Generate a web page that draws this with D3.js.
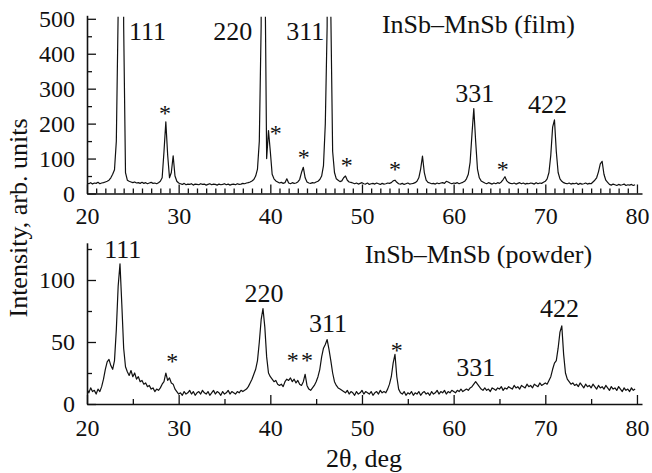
<!DOCTYPE html>
<html><head><meta charset="utf-8">
<script src="https://cdn.jsdelivr.net/npm/d3@7"></script>
<style>
html,body{margin:0;padding:0;background:#fff;}
svg{display:block;}
</style></head>
<body><svg id="chart" width="652" height="473"></svg>
<script>
// ---------- data (2θ in deg, intensity in arb. units) ----------
const filmData = [[20.0,30],[20.2,28],[20.4,31],[20.6,27],[20.8,30],[21.0,29],[21.2,32],[21.4,28],[21.6,30],[21.8,31],[22.0,33],[22.2,35],[22.4,38],[22.6,45],[22.8,55],[23.0,68],[23.2,150],[23.4,520],[23.6,3000],[23.8,2500],[24.0,480],[24.2,60],[24.4,38],[24.6,35],[24.8,33],[25.0,31],[25.2,33],[25.4,30],[25.6,31],[25.8,29],[26.0,32],[26.2,29],[26.4,31],[26.6,28],[26.8,30],[27.0,32],[27.2,29],[27.4,30],[27.6,28],[27.8,31],[28.0,35],[28.2,45],[28.4,120],[28.6,205],[28.8,110],[29.0,45],[29.2,60],[29.4,108],[29.6,50],[29.8,35],[30.0,30],
[30.2,28],[30.4,26],[30.6,29],[30.8,25],[31.0,27],[31.2,26],[31.4,28],[31.6,24],[31.8,27],[32.0,26],[32.2,25],[32.4,28],[32.6,26],[32.8,27],[33.0,24],[33.2,26],[33.4,28],[33.6,25],[33.8,27],[34.0,26],[34.2,24],[34.4,27],[34.6,25],[34.8,26],[35.0,28],[35.2,25],[35.4,27],[35.6,24],[35.8,26],[36.0,27],[36.2,25],[36.4,28],[36.6,26],[36.8,27],[37.0,29],[37.2,28],[37.4,30],[37.6,31],[37.8,33],[38.0,36],[38.2,40],[38.4,50],[38.6,70],[38.8,150],[39.0,480],[39.2,3000],[39.4,700],[39.6,100],[39.8,180],[40.0,120],[40.2,55],[40.4,42],[40.6,36],[40.8,33],[41.0,30],[41.2,32],[41.4,29],[41.6,31],[41.8,42],[42.0,30],[42.2,28],[42.4,31],[42.6,29],[42.8,30],[43.0,33],[43.2,40],[43.4,60],[43.6,75],[43.8,45],[44.0,33],[44.2,30],[44.4,29],[44.6,31],[44.8,30],[45.0,33],[45.2,35],[45.4,40],[45.6,50],[45.8,80],[46.0,200],[46.2,480],[46.4,3000],[46.6,520],[46.8,120],[47.0,60],[47.2,42],[47.4,38],[47.6,34],[47.8,36],[48.0,45],[48.2,50],[48.4,38],[48.6,33],[48.8,32],[49.0,30],
[49.2,28],[49.4,30],[49.6,27],[49.8,29],[50.0,31],[50.2,28],[50.4,27],[50.6,30],[50.8,26],[51.0,28],[51.2,29],[51.4,27],[51.6,30],[51.8,28],[52.0,26],[52.2,29],[52.4,27],[52.6,28],[52.8,30],[53.0,29],[53.2,31],[53.4,36],[53.6,38],[53.8,32],[54.0,28],[54.2,27],[54.4,29],[54.6,26],[54.8,28],[55.0,30],[55.2,27],[55.4,28],[55.6,29],[55.8,31],[56.0,35],[56.2,45],[56.4,70],[56.6,107],[56.8,60],[57.0,38],[57.2,32],[57.4,30],[57.6,28],[57.8,29],[58.0,27],[58.2,30],[58.4,28],[58.6,30],[58.8,31],[59.0,29],[59.2,35],[59.4,33],[59.6,30],[59.8,28],[60.0,30],[60.2,29],[60.4,31],[60.6,28],[60.8,30],[61.0,32],[61.2,35],[61.4,42],[61.6,55],[61.8,90],[62.0,170],[62.2,243],[62.4,150],[62.6,70],[62.8,45],[63.0,36],[63.2,33],[63.4,30],[63.6,28],[63.8,31],[64.0,29],[64.2,27],[64.4,30],[64.6,28],[64.8,31],[65.0,29],[65.2,33],[65.4,40],[65.6,48],[65.8,36],[66.0,31],[66.2,29],[66.4,28],[66.6,30],[66.8,27],[67.0,29],[67.2,31],[67.4,28],[67.6,30],[67.8,27],[68.0,29],[68.2,28],[68.4,30],[68.6,29],[68.8,27],[69.0,31],[69.2,28],[69.4,30],[69.6,29],[69.8,32],[70.0,35],[70.2,42],[70.4,60],[70.6,110],[70.8,190],[71.0,211],[71.2,120],[71.4,60],[71.6,42],[71.8,35],[72.0,31],[72.2,29],[72.4,28],[72.6,30],[72.8,27],[73.0,29],[73.2,28],[73.4,30],[73.6,26],[73.8,29],[74.0,27],[74.2,28],[74.4,30],[74.6,27],[74.8,29],[75.0,28],[75.2,33],[75.4,38],[75.6,45],[75.8,62],[76.0,85],[76.2,92],[76.4,55],[76.6,38],[76.8,32],[77.0,26],[77.2,24],[77.4,27],[77.6,25],[77.8,23],[78.0,26],[78.2,24],[78.4,25],[78.6,27],[78.8,23],[79.0,25],[79.2,24],[79.4,26],[79.6,23],[79.8,25]];

const powderData = [[20.0,12],[20.2,9],[20.4,13],[20.6,10],[20.8,11],[21.0,8],[21.2,12],[21.4,10],[21.6,14],[21.8,20],[22.0,28],[22.2,34],[22.4,36],[22.6,31],[22.8,28],[23.0,35],[23.2,60],[23.4,95],[23.6,113],[23.8,80],[24.0,45],[24.2,30],[24.4,26],[24.6,23],[24.8,27],[25.0,22],[25.2,25],[25.4,20],[25.6,22],[25.8,18],[26.0,19],[26.2,16],[26.4,17],[26.6,14],[26.8,15],[27.0,12],[27.2,13],[27.4,10],[27.6,12],[27.8,11],[28.0,13],[28.2,16],[28.4,18],[28.6,25],[28.8,19],[29.0,21],[29.2,17],[29.4,16],[29.6,12],[29.8,10],[30.0,8],
[30.2,9],[30.4,7],[30.6,10],[30.8,8],[31.0,9],[31.2,11],[31.4,8],[31.6,10],[31.8,7],[32.0,9],[32.2,10],[32.4,8],[32.6,11],[32.8,9],[33.0,8],[33.2,10],[33.4,7],[33.6,9],[33.8,11],[34.0,8],[34.2,10],[34.4,9],[34.6,7],[34.8,10],[35.0,8],[35.2,9],[35.4,11],[35.6,8],[35.8,10],[36.0,9],[36.2,8],[36.4,10],[36.6,9],[36.8,11],[37.0,10],[37.2,11],[37.4,12],[37.6,14],[37.8,17],[38.0,20],[38.2,24],[38.4,28],[38.6,35],[38.8,50],[39.0,68],[39.2,77],[39.4,62],[39.6,38],[39.8,25],[40.0,22],[40.2,20],[40.4,18],[40.6,19],[40.8,16],[41.0,15],[41.2,16],[41.4,14],[41.6,18],[41.8,20],[42.0,19],[42.2,21],[42.4,18],[42.6,20],[42.8,17],[43.0,19],[43.2,16],[43.4,15],[43.6,18],[43.8,24],[44.0,15],[44.2,12],[44.4,11],[44.6,13],[44.8,15],[45.0,18],[45.2,22],[45.4,28],[45.6,38],[45.8,45],[46.0,48],[46.2,52],[46.4,44],[46.6,35],[46.8,25],[47.0,18],[47.2,15],[47.4,13],[47.6,12],[47.8,11],[48.0,10],
[48.2,9],[48.4,11],[48.6,8],[48.8,10],[49.0,9],[49.2,7],[49.4,10],[49.6,8],[49.8,9],[50.0,11],[50.2,8],[50.4,10],[50.6,9],[50.8,8],[51.0,10],[51.2,7],[51.4,9],[51.6,10],[51.8,8],[52.0,11],[52.2,9],[52.4,10],[52.6,9],[52.8,12],[53.0,16],[53.2,22],[53.4,33],[53.6,40],[53.8,22],[54.0,12],[54.2,9],[54.4,8],[54.6,10],[54.8,7],[55.0,9],[55.2,8],[55.4,10],[55.6,7],[55.8,9],[56.0,8],[56.2,10],[56.4,7],[56.6,9],[56.8,10],[57.0,8],[57.2,9],[57.4,7],[57.6,10],[57.8,8],[58.0,9],[58.2,11],[58.4,8],[58.6,10],[58.8,9],[59.0,11],[59.2,8],[59.4,10],[59.6,9],[59.8,11],[60.0,10],[60.2,9],[60.4,11],[60.6,10],[60.8,12],[61.0,10],[61.2,11],[61.4,12],[61.6,11],[61.8,13],[62.0,14],[62.2,16],[62.4,18],[62.6,16],[62.8,14],[63.0,12],[63.2,11],[63.4,13],[63.6,11],[63.8,12],[64.0,10],[64.2,13],[64.4,12],[64.6,11],[64.8,13],[65.0,12],[65.2,14],[65.4,11],[65.6,13],[65.8,12],[66.0,14],[66.2,13],[66.4,12],[66.6,15],[66.8,13],[67.0,14],[67.2,12],[67.4,15],[67.6,14],[67.8,13],[68.0,16],[68.2,14],[68.4,15],[68.6,13],[68.8,16],[69.0,15],[69.2,14],[69.4,17],[69.6,15],[69.8,16],[70.0,17],[70.2,16],[70.4,19],[70.6,22],[70.8,28],[71.0,33],[71.2,35],[71.4,45],[71.6,58],[71.8,63],[72.0,40],[72.2,25],[72.4,20],[72.6,18],[72.8,16],[73.0,17],[73.2,15],[73.4,16],[73.6,14],[73.8,17],[74.0,15],[74.2,13],[74.4,16],[74.6,14],[74.8,15],[75.0,13],[75.2,16],[75.4,14],[75.6,12],[75.8,15],[76.0,13],[76.2,14],[76.4,12],[76.6,15],[76.8,13],[77.0,11],[77.2,14],[77.4,12],[77.6,13],[77.8,11],[78.0,14],[78.2,12],[78.4,10],[78.6,13],[78.8,11],[79.0,12],[79.2,10],[79.4,13],[79.6,11],[79.8,12]];

const xMajorTicks = [20, 30, 40, 50, 60, 70, 80];
const filmYTicks = [0, 100, 200, 300, 400, 500];
const filmYMinor = [50, 150, 250, 350, 450];
const powderYTicks = [0, 50, 100];
const powderYMinor = [25, 75, 125];
const filmXMinor = d3.range(21, 80, 1).filter(v => v % 10 !== 0);
const powderXMinor = [25, 35, 45, 55, 65, 75];

// annotations: text, 2θ position, intensity position (data units)
const filmLabels = [["111",26.6,439],["220",35.9,439],["311",43.8,439],["331",62.3,262],["422",70.25,230]];
const filmStars = [[28.5,207],[40.6,150],[43.65,82],[48.35,59],[53.6,47],[65.35,47]];
const powderLabels = [["111",23.9,117.7],["220",39.3,82.3],["311",46.3,58],["331",62.4,22.6],["422",71.55,70.2]];
const powderStars = [[29.3,28.2],[42.45,29],[44.0,29],[53.8,37]];
const filmTitle = "InSb\u2013MnSb (film)";
const powderTitle = "InSb\u2013MnSb (powder)";

// ---------- drawing ----------
const SERIF = '"Liberation Serif", "Times New Roman", serif';
const svg = d3.select("#chart").attr("font-family", SERIF);
const x = d3.scaleLinear().domain([20, 80.55]).range([87, 642]);
const yF = d3.scaleLinear().domain([0, 510]).range([193.5, 15.3]);
const yP = d3.scaleLinear().domain([0, 130]).range([404, 242.8]);

const tickFont = 24, labelFont = 26;

function serifText(sel, size) {
  sel.style("font-family", SERIF, "important").style("font-size", size + "px").attr("fill", "#111");
}

function panel(y, data, yTicks, yMinor, xMinor, labels, stars, title, titlePos, clipId, xLabelPad) {
  const g = svg.append("g");
  const y0 = y.range()[0];
  const yTop = y(Math.min(500, y.domain()[1])) - 2;
  svg.append("defs").append("clipPath").attr("id", clipId).append("rect")
    .attr("x", x.range()[0]).attr("y", yTop)
    .attr("width", x.range()[1] - x.range()[0])
    .attr("height", y0 - yTop);

  const line = d3.line().x(d => x(d[0])).y(d => y(d[1]));
  g.append("path").datum(data).attr("d", line)
    .attr("fill", "none").attr("stroke", "#111").attr("stroke-width", 1.2)
    .attr("stroke-linejoin", "round")
    .attr("clip-path", `url(#${clipId})`);

  const gxm = g.append("g").attr("transform", `translate(0,${y0})`)
    .call(d3.axisBottom(x).tickValues(xMinor).tickSizeInner(-5).tickSizeOuter(0).tickFormat(""));
  gxm.select(".domain").remove();
  const gx = g.append("g").attr("transform", `translate(0,${y0})`)
    .call(d3.axisBottom(x).tickValues(xMajorTicks).tickSizeInner(-9).tickSizeOuter(0).tickPadding(xLabelPad));
  const gym = g.append("g").attr("transform", `translate(${x.range()[0]},0)`)
    .call(d3.axisLeft(y).tickValues(yMinor).tickSizeInner(-5).tickSizeOuter(0).tickFormat(""));
  gym.select(".domain").remove();
  const gy = g.append("g").attr("transform", `translate(${x.range()[0]},0)`)
    .call(d3.axisLeft(y).tickValues(yTicks).tickSizeInner(-9).tickSizeOuter(0).tickPadding(12));

  [gx, gy, gxm, gym].forEach(a => {
    a.attr("font-family", SERIF).attr("font-size", tickFont);
    a.selectAll("line").attr("stroke", "#111").attr("stroke-width", 1.3);
    a.selectAll(".domain").attr("stroke", "#111").attr("stroke-width", 1.6);
    serifText(a.selectAll("text"), tickFont);
  });

  serifText(g.selectAll(".pk").data(labels).enter().append("text")
    .attr("x", d => x(d[1])).attr("y", d => y(d[2]))
    .attr("text-anchor", "middle").text(d => d[0]), labelFont);
  serifText(g.selectAll(".st").data(stars).enter().append("text")
    .attr("x", d => x(d[0])).attr("y", d => y(d[1]))
    .attr("text-anchor", "middle").text("*"), 24);
  serifText(g.append("text").attr("x", x(titlePos[0])).attr("y", y(titlePos[1]))
    .attr("text-anchor", "middle").text(title), labelFont);
}

panel(yF, filmData, filmYTicks, filmYMinor, filmXMinor, filmLabels, filmStars, filmTitle, [62.7, 459], "clipF", 13);
panel(yP, powderData, powderYTicks, powderYMinor, powderXMinor, powderLabels, powderStars, powderTitle, [62.7, 113.7], "clipP", 15);

serifText(svg.append("text").attr("x", 364).attr("y", 467).attr("text-anchor", "middle")
  .text("2\u03b8, deg"), labelFont);
serifText(svg.append("text").attr("transform", "translate(27,218) rotate(-90)").attr("text-anchor", "middle")
  .text("Intensity, arb. units"), labelFont);
</script>
</body></html>
